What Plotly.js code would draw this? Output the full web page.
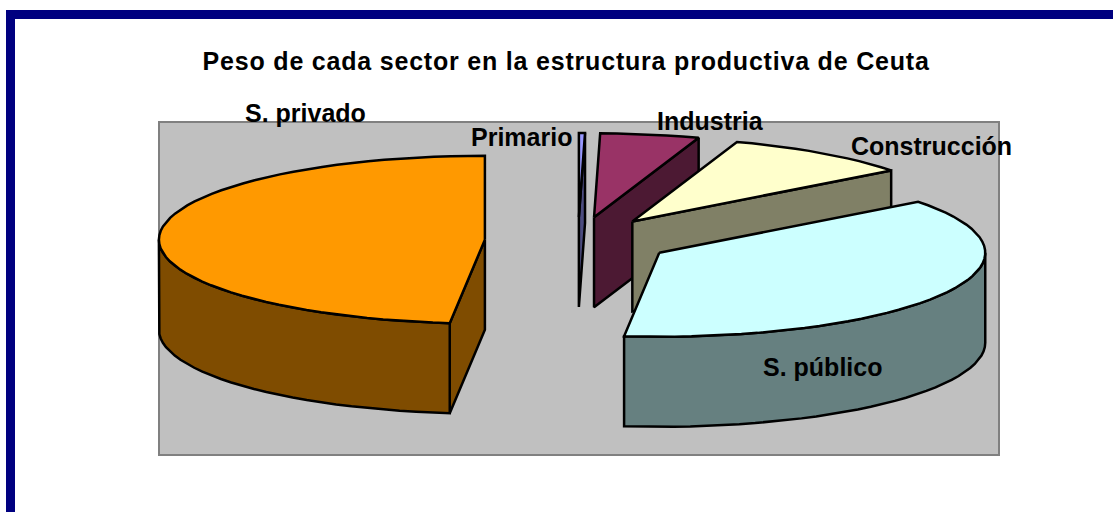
<!DOCTYPE html>
<html><head><meta charset="utf-8">
<script src="https://cdn.plot.ly/plotly-3.0.1.min.js"></script>
<style>html,body{margin:0;padding:0;background:#fff;overflow:hidden}#c{width:1113px;height:512px}
.annotation[data-index="0"] text{letter-spacing:.8px}</style>
</head><body><div id="c"></div>
<script>
// Data, clockwise from 12 o'clock (percentage of the total)
const categories = ["Primario", "Industria", "Construcción", "S. público", "S. privado"];
const shares = [0.3, 4.9, 9.4, 37.12, 48.28];
const topColors = ["#9999FF", "#993366", "#FFFFCC", "#CCFFFF", "#FF9900"];
const sideColors = ["#4C4C80", "#4C1933", "#808066", "#668080", "#7F4C00"];
const chartTitle = "Peso de cada sector en la estructura productiva de Ceuta";

// 3-D pie projection
const cx = 578, cy = 241, rx = 326, ry = 84, depth = 90, explode = 0.286;
const rad = d => d * Math.PI / 180;
const total = shares.reduce((a, b) => a + b, 0);
const rim = (c, t, dy = 0) => [c[0] + rx * Math.sin(rad(t)), c[1] - ry * Math.cos(rad(t)) + dy];
function arc(c, a, b, dy = 0) {
  const n = Math.max(2, Math.ceil(Math.abs(b - a) / 3)), out = [];
  for (let i = 0; i <= n; i++) out.push(rim(c, a + (b - a) * i / n, dy));
  return out;
}
function poly(pts, fill) {
  const closed = pts.concat([pts[0]]);
  return {
    type: "scatter", mode: "lines", fill: "toself", fillcolor: fill,
    x: closed.map(p => p[0]), y: closed.map(p => p[1]),
    line: { color: "#000", width: 2.5, shape: "linear" }, hoverinfo: "skip", showlegend: false
  };
}
const traces = [];
let start = 0;
categories.forEach((name, i) => {
  const end = start + shares[i] / total * 360, mid = (start + end) / 2;
  const c = [cx + explode * rx * Math.sin(rad(mid)), cy - explode * ry * Math.cos(rad(mid))];
  const cut = t => {
    const p = rim(c, t);
    return [c, p, [p[0], p[1] + depth], [c[0], c[1] + depth]];
  };
  if (Math.sin(rad(start)) < -1e-6) traces.push(poly(cut(start), sideColors[i]));
  if (Math.sin(rad(end)) > 1e-6) traces.push(poly(cut(end), sideColors[i]));
  const a = Math.max(start, 90), b = Math.min(end, 270);
  if (b > a) traces.push(poly(arc(c, a, b).concat(arc(c, b, a, depth)), sideColors[i]));
  traces.push(poly([c].concat(arc(c, start, end)), topColors[i]));
  start = end;
});

const labelFont = { family: "Liberation Sans, Arial, sans-serif", size: 25, color: "#000" };
const label = (text, x, y) => ({
  text: "<b>" + text + "</b>", x, y, xref: "x", yref: "y", showarrow: false,
  xanchor: "center", yanchor: "middle", font: labelFont
});
const layout = {
  width: 1113, height: 512, margin: { l: 0, r: 0, t: 0, b: 0 },
  paper_bgcolor: "#fff", plot_bgcolor: "#fff", showlegend: false,
  xaxis: { range: [0, 1113], visible: false, fixedrange: true },
  yaxis: { range: [512, 0], visible: false, fixedrange: true },
  shapes: [
    { type: "rect", layer: "below", xref: "x", yref: "y", x0: 159, x1: 999, y0: 122, y1: 455,
      fillcolor: "#C0C0C0", line: { color: "#808080", width: 2 } },
    { type: "rect", layer: "above", xref: "x", yref: "y", x0: 6, x1: 1113, y0: 10, y1: 19,
      fillcolor: "#000080", line: { width: 0 } },
    { type: "rect", layer: "above", xref: "x", yref: "y", x0: 6, x1: 15, y0: 10, y1: 512,
      fillcolor: "#000080", line: { width: 0 } }
  ],
  annotations: [
    label(chartTitle, 566, 61),
    label(categories[0], 521, 137),
    label(categories[1], 710, 121),
    label(categories[2], 931, 146),
    label(categories[3], 822, 367),
    label(categories[4], 305, 113)
  ]
};
Plotly.newPlot("c", traces, layout, { displayModeBar: false, staticPlot: true });
</script></body></html>
